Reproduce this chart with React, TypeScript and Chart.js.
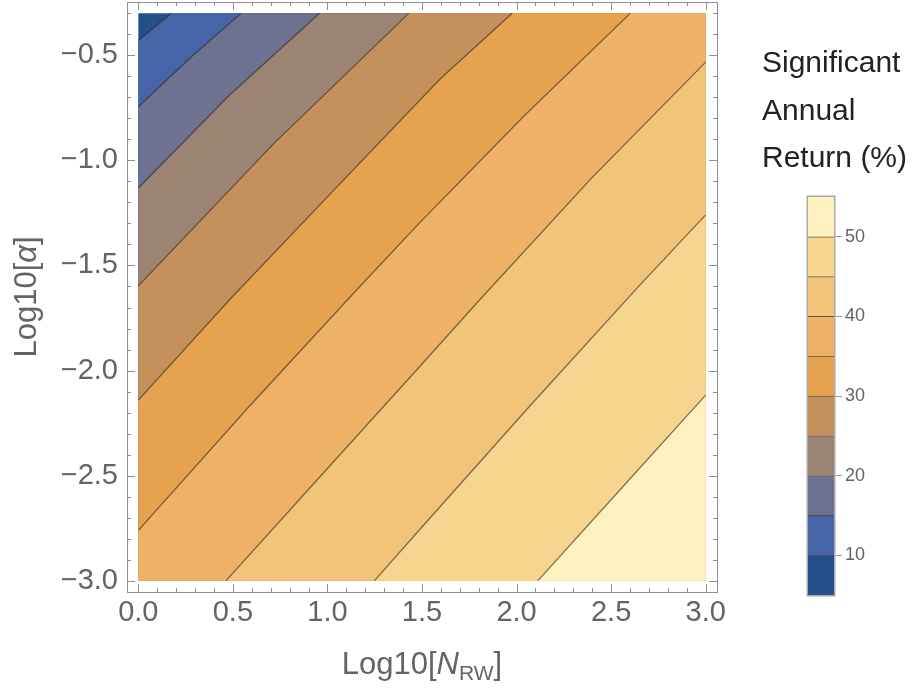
import React, { useEffect, useRef } from 'react';
import { Chart, registerables } from 'chart.js';

Chart.register(...registerables);

// ---- data -------------------------------------------------------------
// contour levels of "Significant Annual Return (%)"
const levels = [10, 15, 20, 25, 30, 35, 40, 45, 50];
// colour bands (low/high value of each band)
const bandLow = [5, 10, 15, 20, 25, 30, 35, 40, 45, 50];
const bandHigh = [10, 15, 20, 25, 30, 35, 40, 45, 50, 55];
const bandColors = [
  '#23508a', '#4565a8', '#6d7290', '#9b8474', '#c4915c',
  '#e6a34f', '#edb266', '#f2c47a', '#f8d58e', '#fdf1c0',
];

// plotted domain: Log10[N_RW] x Log10[alpha]
const xDomain = [0, 3];
const yDomain = [-3, -0.3];

// contour lines, from the top/right edge to the left/bottom edge
const contour10 = [{ x: 0.175, y: -0.3 }, { x: 0, y: -0.429 }];
const contour15 = [{ x: 0.543, y: -0.3 }, { x: 0.272, y: -0.514 }, { x: 0, y: -0.745 }];
const contour20 = [{ x: 0.958, y: -0.3 }, { x: 0.48, y: -0.691 }, { x: 0, y: -1.131 }];
const contour25 = [{ x: 1.43, y: -0.3 }, { x: 0.716, y: -0.92 }, { x: 0, y: -1.597 }];
const contour30 = [
  { x: 1.977, y: -0.3 }, { x: 1.593, y: -0.615 }, { x: 1.011, y: -1.163 },
  { x: 0.481, y: -1.664 }, { x: 0, y: -2.141 },
];
const contour35 = [
  { x: 2.601, y: -0.3 }, { x: 2.042, y: -0.786 }, { x: 1.487, y: -1.297 },
  { x: 1.16, y: -1.611 }, { x: 0.581, y: -2.176 }, { x: 0, y: -2.761 },
];
const contour40 = [
  { x: 3.0, y: -0.532 }, { x: 2.399, y: -1.082 }, { x: 1.804, y: -1.664 },
  { x: 1.487, y: -1.982 }, { x: 0.976, y: -2.49 }, { x: 0.464, y: -3.0 },
];
const contour45 = [
  { x: 3.0, y: -1.259 }, { x: 2.642, y: -1.603 }, { x: 2.063, y: -2.176 },
  { x: 1.487, y: -2.758 }, { x: 1.249, y: -3.0 },
];
const contour50 = [{ x: 3.0, y: -2.117 }, { x: 2.556, y: -2.559 }, { x: 2.113, y: -3.0 }];

const contours = [contour10, contour15, contour20, contour25, contour30, contour35, contour40, contour45, contour50];

// tick labels
const xTicks = [0, 0.5, 1.0, 1.5, 2.0, 2.5, 3.0];
const yTicks = [-3.0, -2.5, -2.0, -1.5, -1.0, -0.5];
const colorBarTicks = [10, 20, 30, 40, 50];
const legendTitle = ['Significant', 'Annual', 'Return (%)'];

// ---- style ------------------------------------------------------------
const FONT = '"Liberation Sans", Arial, Helvetica, sans-serif';
const tickColor = '#646464';
const frameColor = '#8f8f8f';
const contourColor = 'rgba(50,36,22,0.6)';
const pad = 0.02;

const fmt = (v: number) => (v < 0 ? '\u2212' : '') + Math.abs(v).toFixed(1);

function regionAbove(c: { x: number; y: number }[]) {
  // region of values >= level: lower-right side of the contour
  const first = c[0];
  const last = c[c.length - 1];
  const pts = [...c];
  if (last.x <= xDomain[0]) pts.push({ x: xDomain[0], y: yDomain[0] });
  pts.push({ x: xDomain[1], y: yDomain[0] });
  if (first.y >= yDomain[1]) pts.push({ x: xDomain[1], y: yDomain[1] });
  return pts;
}

const frameTicksPlugin = {
  id: 'frameTicks',
  afterDraw(chart: any) {
    const { ctx, chartArea: a, scales } = chart;
    const xs = scales.x;
    const ys = scales.y;
    ctx.save();
    ctx.strokeStyle = frameColor;
    ctx.lineWidth = 1;
    ctx.beginPath();
    for (let i = 0; i <= 30; i++) {
      const v = i / 10;
      const len = i % 5 === 0 ? 8 : 4;
      const px = Math.round(xs.getPixelForValue(v)) + 0.5;
      ctx.moveTo(px, a.bottom);
      ctx.lineTo(px, a.bottom - len);
      ctx.moveTo(px, a.top);
      ctx.lineTo(px, a.top + len);
    }
    for (let i = -30; i <= -3; i++) {
      const v = i / 10;
      const len = i % 5 === 0 ? 8 : 4;
      const py = Math.round(ys.getPixelForValue(v)) + 0.5;
      ctx.moveTo(a.left, py);
      ctx.lineTo(a.left + len, py);
      ctx.moveTo(a.right, py);
      ctx.lineTo(a.right - len, py);
    }
    ctx.stroke();

    // axis titles
    ctx.fillStyle = tickColor;
    ctx.textBaseline = 'alphabetic';
    const big = `31px ${FONT}`;
    const bigIt = `italic 31px ${FONT}`;
    const small = `21px ${FONT}`;
    // x title: Log10[N_RW]
    const parts = [
      { t: 'Log10[', f: big, dy: 0 },
      { t: 'N', f: bigIt, dy: 0 },
      { t: 'RW', f: small, dy: 6 },
      { t: ']', f: big, dy: 0 },
    ];
    let w = 0;
    parts.forEach((p) => { ctx.font = p.f; w += ctx.measureText(p.t).width; });
    let x = (a.left + a.right) / 2 - w / 2;
    const yb = 674;
    parts.forEach((p) => {
      ctx.font = p.f;
      ctx.fillText(p.t, x, yb + p.dy);
      x += ctx.measureText(p.t).width;
    });
    // y title: Log10[alpha]
    ctx.save();
    ctx.translate(36, (a.top + a.bottom) / 2);
    ctx.rotate(-Math.PI / 2);
    const yparts = [
      { t: 'Log10[', f: big },
      { t: '\u03b1', f: bigIt },
      { t: ']', f: big },
    ];
    w = 0;
    yparts.forEach((p) => { ctx.font = p.f; w += ctx.measureText(p.t).width; });
    x = -w / 2;
    yparts.forEach((p) => {
      ctx.font = p.f;
      ctx.fillText(p.t, x, 0);
      x += ctx.measureText(p.t).width;
    });
    ctx.restore();
    ctx.restore();
  },
};

function ContourChart() {
  const ref = useRef<HTMLCanvasElement>(null);
  useEffect(() => {
    if (!ref.current) return;
    const rect = [
      { x: xDomain[0], y: yDomain[1] }, { x: xDomain[0], y: yDomain[0] },
      { x: xDomain[1], y: yDomain[0] }, { x: xDomain[1], y: yDomain[1] },
    ];
    const datasets: any[] = [];
    datasets.push({
      data: rect, backgroundColor: bandColors[0], borderColor: 'transparent',
      borderWidth: 0, fill: 'shape', order: 200, pointRadius: 0,
    });
    contours.forEach((c, i) => {
      datasets.push({
        label: `>= ${levels[i]}`, data: regionAbove(c), backgroundColor: bandColors[i + 1],
        borderColor: 'transparent', borderWidth: 0, fill: 'shape', order: 100 - i, pointRadius: 0,
      });
    });
    contours.forEach((c, i) => {
      datasets.push({
        label: `${levels[i]}`, data: c, borderColor: contourColor, borderWidth: 1.3,
        fill: false, order: 0, pointRadius: 0,
      });
    });
    const xr = xDomain[1] - xDomain[0];
    const yr = yDomain[1] - yDomain[0];
    const common = {
      grid: { display: false, drawTicks: false },
      border: { display: true, color: frameColor, width: 1 },
    };
    const noPad = (s: any) => {
      s.paddingTop = 0; s.paddingBottom = 0; s.paddingLeft = 0; s.paddingRight = 0;
    };
    const chart = new Chart(ref.current, {
      type: 'line',
      data: { datasets },
      options: {
        responsive: false,
        animation: false,
        devicePixelRatio: 1,
        layout: { padding: 0 },
        elements: { line: { tension: 0 }, point: { radius: 0 } },
        plugins: { legend: { display: false }, tooltip: { enabled: false }, title: { display: false } },
        scales: {
          x: {
            type: 'linear', position: 'bottom',
            min: xDomain[0] - pad * xr, max: xDomain[1] + pad * xr,
            afterBuildTicks: (s: any) => { s.ticks = xTicks.map((v) => ({ value: v })); },
            afterFit: (s: any) => { s.height = 96; noPad(s); },
            ticks: {
              font: { family: FONT, size: 29 }, color: tickColor, padding: 4,
              maxRotation: 0, autoSkip: false, callback: (v: any) => fmt(Number(v)),
            },
            ...common,
          },
          y: {
            type: 'linear', position: 'left',
            min: yDomain[0] - pad * yr, max: yDomain[1] + pad * yr,
            afterBuildTicks: (s: any) => { s.ticks = yTicks.map((v) => ({ value: v })); },
            afterFit: (s: any) => { s.width = 127; noPad(s); },
            ticks: {
              font: { family: FONT, size: 29 }, color: tickColor, padding: 9,
              autoSkip: false, callback: (v: any) => fmt(Number(v)),
            },
            ...common,
          },
          x2: {
            type: 'linear', position: 'top',
            min: xDomain[0] - pad * xr, max: xDomain[1] + pad * xr,
            ticks: { display: false },
            afterFit: (s: any) => { s.height = 2; noPad(s); },
            ...common,
          },
          y2: {
            type: 'linear', position: 'right',
            min: yDomain[0] - pad * yr, max: yDomain[1] + pad * yr,
            ticks: { display: false },
            afterFit: (s: any) => { s.width = 195; noPad(s); },
            ...common,
          },
        },
      } as any,
      plugins: [frameTicksPlugin],
    });
    return () => chart.destroy();
  }, []);
  return (
    <canvas ref={ref} width={912} height={688}
      style={{ position: 'absolute', left: 0, top: 0, width: 912, height: 688 }} />
  );
}

const barFramePlugin = {
  id: 'barFrame',
  afterDatasetsDraw(chart: any) {
    const { ctx, chartArea: a } = chart;
    ctx.save();
    ctx.strokeStyle = '#a9a9a9';
    ctx.lineWidth = 1.5;
    ctx.strokeRect(a.left - 0.75, a.top - 0.75, a.right - a.left + 1.5, a.bottom - a.top + 1.5);
    ctx.restore();
  },
};

function ColorBar() {
  const ref = useRef<HTMLCanvasElement>(null);
  useEffect(() => {
    if (!ref.current) return;
    const chart = new Chart(ref.current, {
      type: 'bar',
      data: {
        labels: [''],
        datasets: bandLow.map((lo, i) => ({
          label: `${lo}-${bandHigh[i]}`,
          data: [[lo, bandHigh[i]]],
          backgroundColor: bandColors[i],
          borderColor: 'rgba(50,35,20,0.75)',
          borderWidth: i < bandLow.length - 1 ? { top: 1, bottom: 0, left: 0, right: 0 } : 0,
          borderSkipped: false,
          grouped: false,
          barPercentage: 1,
          categoryPercentage: 1,
        })),
      },
      options: {
        responsive: false,
        animation: false,
        devicePixelRatio: 1,
        layout: { padding: { left: 68, top: 197, bottom: 93, right: 0 } },
        plugins: { legend: { display: false }, tooltip: { enabled: false } },
        scales: {
          x: { display: false },
          y: {
            position: 'right', min: 5, max: 55,
            afterBuildTicks: (s: any) => { s.ticks = colorBarTicks.map((v) => ({ value: v })); },
            afterFit: (s: any) => { s.width = 78; s.paddingTop = 0; s.paddingBottom = 0; },
            ticks: { font: { family: FONT, size: 18 }, color: tickColor, padding: 3 },
            grid: { display: true, drawOnChartArea: false, drawTicks: true, tickLength: 8, color: '#9a9a9a' },
            border: { display: false },
          },
        },
      } as any,
      plugins: [barFramePlugin],
    });
    return () => chart.destroy();
  }, []);
  return (
    <canvas ref={ref} width={172} height={688}
      style={{ position: 'absolute', left: 740, top: 0, width: 172, height: 688 }} />
  );
}

export default function App() {
  return (
    <div style={{ position: 'absolute', left: 0, top: 0, width: 912, height: 688, background: '#fff', overflow: 'hidden' }}>
      <ContourChart />
      <ColorBar />
      <div style={{
        position: 'absolute', left: 762, top: 38, fontFamily: FONT, fontSize: 30,
        lineHeight: '47.5px', color: '#222', whiteSpace: 'nowrap',
      }}>
        {legendTitle.map((t) => (<div key={t}>{t}</div>))}
      </div>
    </div>
  );
}
